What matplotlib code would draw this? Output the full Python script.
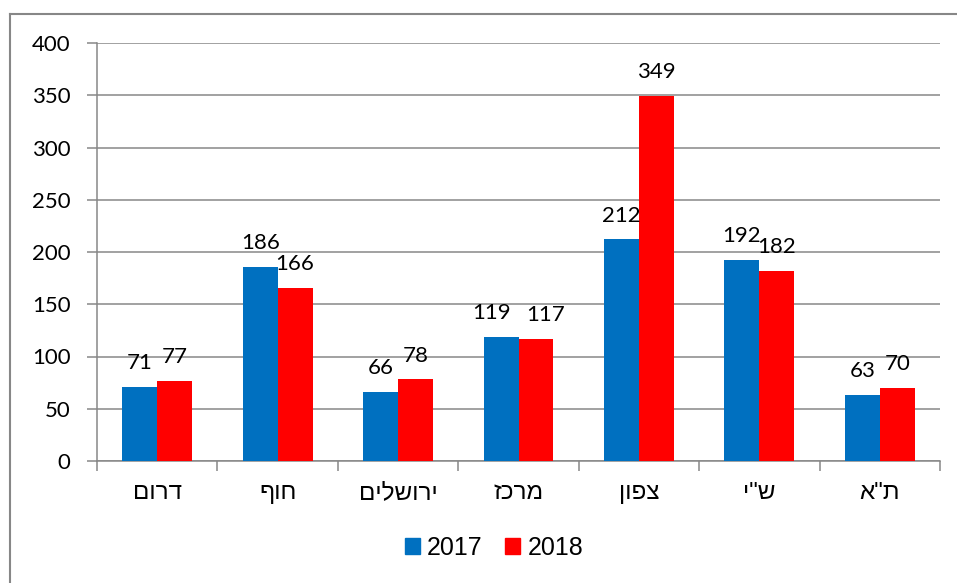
import matplotlib
matplotlib.use("Agg")
import matplotlib.pyplot as plt
import numpy as np
from matplotlib.lines import Line2D
from matplotlib.patches import Patch

categories = ["דרום", "חוף", "ירושלים", "מרכז", "צפון", "ש\"י", "ת\"א"]
series_names = ["2017", "2018"]
values_2017 = [71, 186, 66, 119, 212, 192, 63]
values_2018 = [77, 166, 78, 117, 349, 182, 70]
y_ticks = [0, 50, 100, 150, 200, 250, 300, 350, 400]

plt.rcParams['font.family'] = ['Liberation Sans', 'DejaVu Sans']
NUMFONT = ['Lato', 'Liberation Sans', 'DejaVu Sans']
BLUE = "#0070C0"
RED = "#FF0000"
GRID = "#878787"
DPI = 100

fig = plt.figure(figsize=(9.57, 5.83), dpi=DPI)
ax = fig.add_axes([97/957, 1-461/583, (940-97)/957, (461-43)/583])

x = np.arange(len(categories))
w = 0.29
b1 = ax.bar(x - w/2, values_2017, w, color=BLUE, zorder=3)
b2 = ax.bar(x + w/2, values_2018, w, color=RED, zorder=3)

LABEL_DY = 10
anns = []
for bars, vals in ((b1, values_2017), (b2, values_2018)):
    row = []
    for r, v in zip(bars, vals):
        a = ax.annotate(str(v), (r.get_x() + r.get_width()/2, v), xytext=(0, LABEL_DY),
                        textcoords="offset points", ha="center", va="bottom",
                        fontsize=16, family=NUMFONT, color="black", zorder=4)
        row.append(a)
    anns.append(row)

ax.set_xlim(-0.5, len(categories) - 0.5)
ax.set_ylim(0, 400)
ax.set_yticks(y_ticks)
ax.set_yticklabels([str(t) for t in y_ticks], fontsize=16, family=NUMFONT)
ax.yaxis.grid(True, color=GRID, linewidth=1.1, zorder=0)
ax.tick_params(axis='y', length=7, width=1.1, color=GRID, pad=12)

ax.set_xticks(x)
ax.set_xticklabels([c[::-1] for c in categories], fontsize=17.5)
ax.tick_params(axis='x', which='major', length=0, pad=15)
ax.set_xticks(np.arange(len(categories) + 1) - 0.5, minor=True)
ax.tick_params(axis='x', which='minor', length=7, width=1.1, color=GRID)

for s in ("top", "right"):
    ax.spines[s].set_visible(False)
for s in ("left", "bottom"):
    ax.spines[s].set_color(GRID)
    ax.spines[s].set_linewidth(1.1)

# push apart data labels of the same group that sit on top of each other
fig.canvas.draw()
renderer = fig.canvas.get_renderer()
for a1, a2 in zip(anns[0], anns[1]):
    e1 = a1.get_window_extent(renderer)
    e2 = a2.get_window_extent(renderer)
    if e1.overlaps(e2) and abs(e1.y0 - e2.y0) < 0.4 * e1.height:
        gap_px = 16
        need = (e1.x1 - e2.x0) + gap_px
        shift_pt = need / 2 * 72 / DPI
        a1.xyann = (-shift_pt, LABEL_DY)
        a2.xyann = (shift_pt, LABEL_DY)

handles = [Patch(color=BLUE), Patch(color=RED)]
fig.legend(handles, series_names, loc="center", bbox_to_anchor=(494/957, 1-548/583),
           ncol=2, frameon=False, fontsize=18, handlelength=0.6, handleheight=0.6,
           handletextpad=0.3, columnspacing=0.9, borderpad=0, borderaxespad=0)

# outer chart border (left and top visible)
fig.add_artist(Line2D([10/957, 10/957], [0, 1-14/583], transform=fig.transFigure,
                      color=GRID, linewidth=1.5))
fig.add_artist(Line2D([10/957, 1], [1-14/583, 1-14/583], transform=fig.transFigure,
                      color=GRID, linewidth=1.5))

fig.savefig("out.png", dpi=DPI)
